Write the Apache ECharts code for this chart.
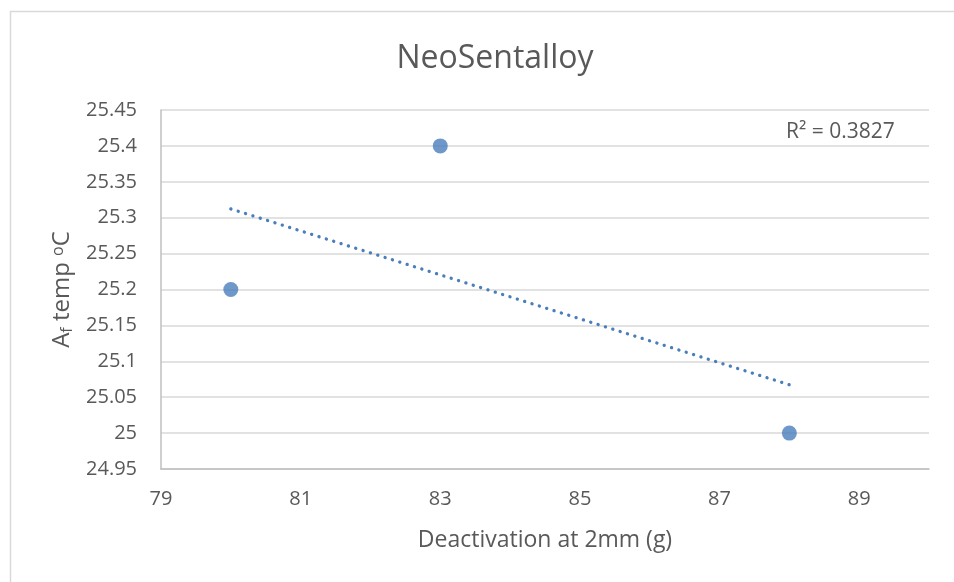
<!DOCTYPE html>
<html>
<head>
<meta charset="utf-8">
<script src="https://cdn.jsdelivr.net/npm/echarts@6/dist/echarts.min.js"></script>
<style>html,body{margin:0;padding:0;background:#fff}#c{width:954px;height:582px}</style>
</head>
<body>
<div id="c"></div>
<script>
var title = 'NeoSentalloy';
var xName = 'Deactivation at 2mm (g)';
var xValues = [80, 83, 88];
var yValues = [25.2, 25.4, 25.0];
var xTicks = [79, 81, 83, 85, 87, 89];
var xMin = 79, xMax = 90;
var yMin = 24.95, yMax = 25.45, yStep = 0.05;

// linear regression (trendline) from the data
var n = xValues.length;
var mx = xValues.reduce(function(a,b){return a+b;},0)/n;
var my = yValues.reduce(function(a,b){return a+b;},0)/n;
var sxx=0, sxy=0, syy=0;
for (var i=0;i<n;i++){ sxx+=(xValues[i]-mx)*(xValues[i]-mx); sxy+=(xValues[i]-mx)*(yValues[i]-my); syy+=(yValues[i]-my)*(yValues[i]-my); }
var slope = sxy/sxx, icpt = my - slope*mx;
var r2 = (sxy*sxy)/(sxx*syy);
var xLo = Math.min.apply(null,xValues), xHi = Math.max.apply(null,xValues);
var trend = [[xLo, icpt+slope*xLo],[xHi, icpt+slope*xHi]];

var font = '"Open Sans", sans-serif';
var txt = '#595959';
var blue = '#4a7ebb';

var chart = echarts.init(document.getElementById('c'), null, {renderer:'canvas'});
chart.setOption({
  animation:false,
  backgroundColor:'#fff',
  title:{text:title,left:490,textAlign:'center',top:38,textStyle:{fontFamily:font,fontSize:32,fontWeight:'normal',color:txt}},
  grid:{left:161,right:25,top:110,bottom:113,containLabel:false},
  xAxis:{type:'value',min:xMin,max:xMax,
    name:xName,nameLocation:'middle',nameGap:60,
    nameTextStyle:{fontFamily:font,fontSize:23,color:txt},
    axisLine:{show:true,lineStyle:{color:'#bfbfbf',width:1.5}},
    axisTick:{show:false},
    splitLine:{show:false},
    axisLabel:{customValues:xTicks,fontFamily:font,fontSize:20,color:txt,margin:20}
  },
  yAxis:{type:'value',min:yMin,max:yMax,interval:yStep,
    name:'{a|A}{s|f}{a| temp }{p|o}{a|C}',nameLocation:'middle',nameGap:86,nameRotate:90,
    nameTextStyle:{rich:{
      a:{fontFamily:font,fontSize:24,color:txt},
      s:{fontFamily:font,fontSize:16,color:txt,verticalAlign:'bottom',padding:[9,0,0,0]},
      p:{fontFamily:font,fontSize:16,color:txt,verticalAlign:'top',padding:[0,0,9,0]}
    }},
    axisLine:{show:true,lineStyle:{color:'#bfbfbf',width:1.5}},
    axisTick:{show:false},
    splitLine:{show:true,lineStyle:{color:'#d9d9d9',width:1.5}},
    axisLabel:{fontFamily:font,fontSize:20,color:txt,margin:24}
  },
  series:[
    {type:'line',data:trend,showSymbol:false,symbol:'none',silent:true,
     lineStyle:{color:blue,width:3.3,type:[0.1,7.6],cap:'round'},z:2},
    {type:'scatter',data:xValues.map(function(x,i){return [x,yValues[i]];}),
     symbol:'circle',symbolSize:15,itemStyle:{color:blue},z:3}
  ],
  graphic:[
    {type:'rect',shape:{x:10.5,y:11.5,width:2000,height:2000},style:{fill:'none',stroke:'#d9d9d9',lineWidth:1.5},silent:true},
    {type:'text',left:786,top:122,style:{text:'R² = '+r2.toFixed(4),font:'21px "Open Sans", sans-serif',fill:txt}}
  ]
});
</script>
</body>
</html>
